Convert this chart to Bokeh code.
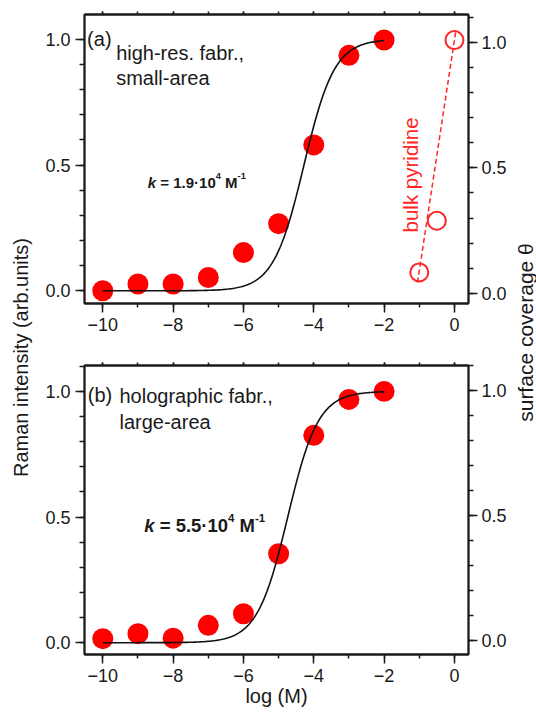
import numpy as np
from bokeh.plotting import figure
from bokeh.models import (Range1d, LinearAxis, SingleIntervalTicker, Label,
                          NumeralTickFormatter, CustomJSTickFormatter)
from bokeh.layouts import row, column
from bokeh.embed import file_html
from bokeh.resources import INLINE

# Concentration (log M) and normalised Raman intensity for the two substrates
log_conc = [-10, -9, -8, -7, -6, -5, -4, -3, -2]
intensity_a = [0.0, 0.027, 0.027, 0.053, 0.152, 0.267, 0.58, 0.936, 0.997]
intensity_b = [0.016, 0.036, 0.018, 0.069, 0.115, 0.354, 0.825, 0.968, 1.0]

# Langmuir adsorption constants (M^-1) of the fitted isotherms
k_a = 1.9e4
k_b = 5.5e4
k_a_mantissa = "1.9"
k_b_mantissa = "5.5"

# Bulk pyridine surface coverage and its trend line (right axis)
bulk_log = [-1.0, -0.5, 0.0]
bulk_theta = [0.083, 0.289, 1.01]
bulk_line_log = [-1.05, 0.04]
bulk_line_theta = [0.043, 1.047]

FONT = "Liberation Sans"
INK = "#1a1a1a"
RED = "#ff0000"
RED_OPEN = "#ff2626"

# Arial bold advance widths (em) used to lay out the k expression
BOLD_W = {"k": 0.556, " ": 0.278, "=": 0.584, ".": 0.278, "·": 0.333,
          "M": 0.833, "-": 0.333}


def text_width(s, size):
    return sum(BOLD_W.get(ch, 0.556) for ch in s) * size


def k_expression(p, x, y, size, mantissa):
    # (text, size scale, rise in em, style, gap in em before the piece)
    pieces = [("k", 1.0, 0.0, "bold italic", 0.0),
              ("= " + mantissa + "·10", 1.0, 0.0, "bold", 0.278),
              ("4", 0.62, 0.42, "bold", 0.0),
              ("M", 1.0, 0.0, "bold", 0.278),
              ("-1", 0.62, 0.42, "bold", 0.0)]
    off = 0.0
    for txt, scale, rise, style, gap in pieces:
        off += gap * size
        fs = size * scale
        p.add_layout(Label(x=x, y=y, x_offset=off, y_offset=rise * size,
                           text=txt, text_font=FONT, text_font_size=f"{fs:.2f}px",
                           text_font_style=style, text_color=INK,
                           text_align="left", text_baseline="alphabetic"))
        off += text_width(txt, fs)


def style_axis(ax, major_out, minor_out, standoff=5, labels=True):
    ax.axis_line_color = INK
    ax.axis_line_width = 1.8
    ax.major_tick_line_color = INK
    ax.minor_tick_line_color = INK
    ax.major_tick_line_width = 1.5
    ax.minor_tick_line_width = 1.5
    ax.major_tick_in = 0
    ax.minor_tick_in = 0
    ax.major_tick_out = major_out
    ax.minor_tick_out = minor_out
    ax.major_label_standoff = standoff
    ax.major_label_text_font = FONT
    ax.major_label_text_color = INK
    ax.major_label_text_font_size = "18px"
    if not labels:
        ax.formatter = CustomJSTickFormatter(code="return ''")
        ax.major_label_text_font_size = "1px"
        ax.major_label_standoff = 0


def make_panel(intensity, k, mantissa, k_size, k_xy, y_rng, theta_rng,
               border_top, border_bottom, xlabel=None):
    p = figure(frame_width=384, frame_height=289,
               x_range=Range1d(-10.52, 0.40), y_range=Range1d(*y_rng),
               output_backend="svg", toolbar_location=None,
               min_border_left=44, min_border_right=44,
               min_border_top=border_top, min_border_bottom=border_bottom,
               x_axis_location=None, y_axis_location=None)
    p.extra_y_ranges = {"theta": Range1d(*theta_rng)}
    p.grid.visible = False
    p.outline_line_color = INK
    p.outline_line_width = 1.8
    p.background_fill_color = "white"
    p.border_fill_color = "white"

    below = LinearAxis(ticker=SingleIntervalTicker(interval=2, num_minor_ticks=2))
    style_axis(below, 9, 4, standoff=5)
    if xlabel:
        below.axis_label = xlabel
        below.axis_label_text_font = FONT
        below.axis_label_text_font_size = "20px"
        below.axis_label_text_font_style = "normal"
        below.axis_label_text_color = INK
        below.axis_label_standoff = 0
    p.add_layout(below, "below")

    above = LinearAxis(ticker=SingleIntervalTicker(interval=2, num_minor_ticks=2))
    style_axis(above, 3, 3, labels=False)
    p.add_layout(above, "above")

    left = LinearAxis(ticker=SingleIntervalTicker(interval=0.5, num_minor_ticks=5),
                      formatter=NumeralTickFormatter(format="0.0"))
    style_axis(left, 9, 5, standoff=5)
    p.add_layout(left, "left")

    right = LinearAxis(y_range_name="theta",
                       ticker=SingleIntervalTicker(interval=0.5, num_minor_ticks=5),
                       formatter=NumeralTickFormatter(format="0.0"))
    style_axis(right, 9, 5, standoff=4)
    p.add_layout(right, "right")

    # measured intensities
    p.scatter(log_conc, intensity, size=21, fill_color=RED, line_color=None)

    # Langmuir isotherm theta = K c / (1 + K c)
    xs = np.linspace(-10, -2, 241)
    c = 10.0 ** xs
    p.line(xs, k * c / (1 + k * c), line_color="#111111", line_width=1.6)

    k_expression(p, k_xy[0], k_xy[1], k_size, mantissa)
    return p


def add_text(p, x, y, text, size="20px", color=INK, **kw):
    p.add_layout(Label(x=x, y=y, text=text, text_font=FONT, text_font_size=size,
                       text_color=color, text_align="left",
                       text_baseline="alphabetic", **kw))


# (a) high-resolution, small-area substrate
top = make_panel(intensity_a, k_a, k_a_mantissa, 15, (-8.72, 0.43),
                 (-0.0505, 1.0985), (-0.041, 1.112), 14, 40)
add_text(top, -10.446, 1.002, "(a)")
add_text(top, -9.62, 0.947, "high-res. fabr.,")
add_text(top, -9.62, 0.847, "small-area")

top.line(bulk_line_log, bulk_line_theta, y_range_name="theta",
         line_color=RED_OPEN, line_width=1.5, line_dash="5 3")
top.scatter(bulk_log, bulk_theta, y_range_name="theta", size=18,
            fill_color=None, line_color=RED_OPEN, line_width=2)
add_text(top, -1.259, 0.232, "bulk pyridine", size="20.5px", color=RED_OPEN,
         angle=np.pi / 2)

# (b) holographic, large-area substrate
bottom = make_panel(intensity_b, k_b, k_b_mantissa, 18.5, (-8.82, 0.467),
                    (-0.047, 1.103), (-0.055, 1.102), 22, 58, xlabel="log (M)")
add_text(bottom, -10.426, 0.985, "(b)")
add_text(bottom, -9.525, 0.983, "holographic fabr.,")
add_text(bottom, -9.525, 0.880, "large-area")


def side_label(width, x, y, text, size):
    f = figure(width=width, height=712, x_range=Range1d(0, width),
               y_range=Range1d(0, 712), output_backend="svg",
               toolbar_location=None, x_axis_location=None,
               y_axis_location=None, min_border=0)
    f.grid.visible = False
    f.outline_line_color = None
    f.border_fill_color = "white"
    f.background_fill_color = "white"
    f.add_layout(Label(x=x, y=y, text=text, angle=np.pi / 2, text_font=FONT,
                       text_font_size=size, text_color=INK, text_align="center",
                       text_baseline="alphabetic"))
    return f


left_title = side_label(40, 20, 355, "Raman intensity (arb.units)", "20px")
right_title = side_label(24, 13, 380, "surface coverage θ", "21px")

layout = row(left_title, column(top, bottom), right_title)

with open("out.html", "w") as fh:
    fh.write(file_html(layout, INLINE))
